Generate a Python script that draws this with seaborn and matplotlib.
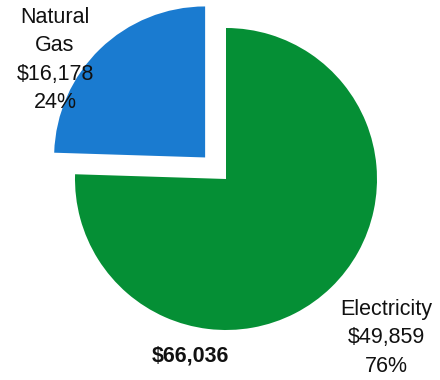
import matplotlib.pyplot as plt
import seaborn as sns

# data
sources = ['Electricity', 'Natural Gas']
costs = [49859, 16178]
shares = [76, 24]
colors = ['#058f35', '#1a7bd0']
total_label = '$66,036'

sns.set_theme(style='white')
plt.rcParams['font.family'] = ['Liberation Sans', 'DejaVu Sans']

fig = plt.figure(figsize=(4.4, 3.8), dpi=100)
ax = fig.add_axes([0, 0, 1, 1])

# pie in pixel units, centre and radius
# (explode is absolute, not scaled by radius)
ax.pie(costs, colors=colors, startangle=90, counterclock=False,
       explode=[0, 30], center=(226, 201), radius=151,
       wedgeprops=dict(linewidth=0), frame=True)
ax.set_xlim(0, 440)
ax.set_ylim(0, 380)
ax.set_aspect('equal')
ax.axis('off')

# labels
ax.text(386, 42, 'Electricity\n$%s\n%d%%' % (format(costs[0], ','), shares[0]),
        ha='center', va='center', fontsize=15.5, linespacing=1.45, color='#111111')
ax.text(55, 320, 'Natural\nGas\n$%s\n%d%%' % (format(costs[1], ','), shares[1]),
        ha='center', va='center', fontsize=15.5, linespacing=1.45, color='#111111')
ax.text(190, 24, total_label, ha='center', va='center', fontsize=15.5,
        fontweight='bold', color='#111111')

fig.savefig('out.png', dpi=100)
